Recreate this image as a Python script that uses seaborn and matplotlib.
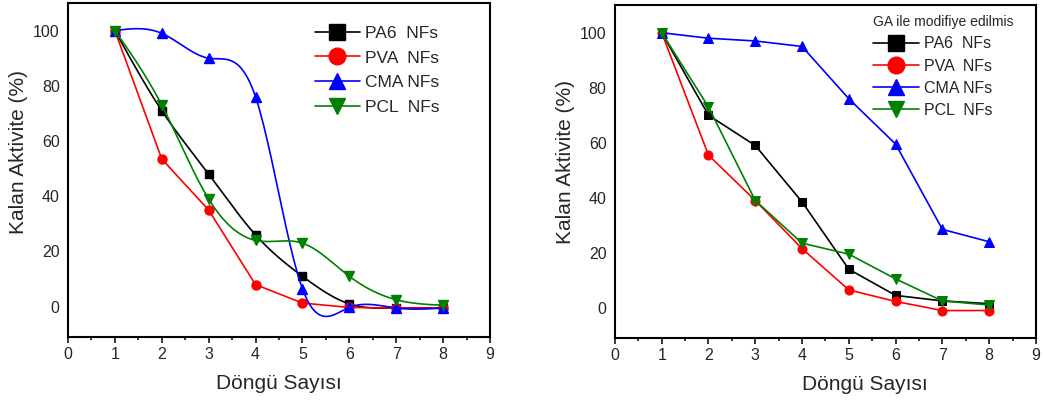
import numpy as np
import matplotlib
matplotlib.use("Agg")
import matplotlib.pyplot as plt
import seaborn as sns
from matplotlib.lines import Line2D
from matplotlib.ticker import MultipleLocator

cycles = [1, 2, 3, 4, 5, 6, 7, 8]
labels = ["PA6  NFs", "PVA  NFs", "CMA NFs", "PCL  NFs"]

# left panel (unmodified)
pa6_left = [100, 71, 48, 26, 11, 1, -0.5, -0.5]
pva_left = [100, 53.5, 35, 8, 1.3, -0.3, -0.5, -0.5]
cma_left = [100, 99, 90, 76, 6.5, -0.3, -0.5, -0.5]
pcl_left = [100, 73, 39, 24, 23, 11, 2.5, 0.5]

# right panel (GA modified)
pa6_right = [100, 70, 59, 38.5, 14, 4.5, 2.5, 1.5]
pva_right = [100, 55.5, 39, 21.5, 6.5, 2.3, -1, -1]
cma_right = [100, 98, 97, 95, 76, 59.5, 28.5, 24]
pcl_right = [100, 73, 39, 23.5, 19.5, 10.5, 2.5, 1]

colors = ["black", "red", "blue", "green"]
markers = ["s", "o", "^", "v"]
msizes = [6, 6.5, 7, 7]


def natural_spline(x, y, n=300):
    # smooth connecting line (Origin style spline) drawn through the points
    x = np.asarray(x, float)
    y = np.asarray(y, float)
    k = len(x)
    h = np.diff(x)
    A = np.zeros((k, k))
    b = np.zeros(k)
    A[0, 0] = A[-1, -1] = 1
    for i in range(1, k - 1):
        A[i, i - 1] = h[i - 1]
        A[i, i] = 2 * (h[i - 1] + h[i])
        A[i, i + 1] = h[i]
        b[i] = 6 * ((y[i + 1] - y[i]) / h[i] - (y[i] - y[i - 1]) / h[i - 1])
    M = np.linalg.solve(A, b)
    xs = np.linspace(x[0], x[-1], n)
    idx = np.clip(np.searchsorted(x, xs) - 1, 0, k - 2)
    x0, x1 = x[idx], x[idx + 1]
    hh = x1 - x0
    t0 = x1 - xs
    t1 = xs - x0
    ys = (M[idx] * t0 ** 3 + M[idx + 1] * t1 ** 3) / (6 * hh) \
        + (y[idx] / hh - M[idx] * hh / 6) * t0 \
        + (y[idx + 1] / hh - M[idx + 1] * hh / 6) * t1
    return xs, ys


sns.set_style("white")
plt.rcParams["font.family"] = ["Liberation Sans", "DejaVu Sans"]

fig = plt.figure(figsize=(10.44, 4.01), dpi=100)
ax1 = fig.add_axes([0.0651, 0.1596, 0.4042, 0.833])
ax2 = fig.add_axes([0.589, 0.157, 0.4033, 0.830])

left_series = [pa6_left, pva_left, cma_left, pcl_left]
smooth = [True, False, True, True]
for vals, c, m, ms, sm in zip(left_series, colors, markers, msizes, smooth):
    if sm:
        xs, ys = natural_spline(cycles, vals)
        sns.lineplot(x=xs, y=ys, color=c, lw=1.2, ax=ax1)
    else:
        sns.lineplot(x=cycles, y=vals, color=c, lw=1.2, ax=ax1)
    ax1.plot(cycles, vals, ls="none", marker=m, ms=ms, color=c)

right_series = [pa6_right, pva_right, cma_right, pcl_right]
for vals, c, m, ms in zip(right_series, colors, markers, msizes):
    sns.lineplot(x=cycles, y=vals, color=c, lw=1.2, marker=m, markersize=ms,
                 markeredgecolor=c, ax=ax2)

handles = [Line2D([], [], color=c, lw=1.2, marker=m, ms=12, markeredgecolor=c)
           for c, m in zip(colors, markers)]

for ax in (ax1, ax2):
    ax.set_xlim(0, 9)
    ax.set_ylim(-11, 110)
    ax.xaxis.set_major_locator(MultipleLocator(1))
    ax.xaxis.set_minor_locator(MultipleLocator(0.5))
    ax.set_yticks([0, 20, 40, 60, 80, 100])
    ax.tick_params(axis="x", which="major", direction="out", length=4.5,
                   width=1.3, labelsize=11.5, bottom=True, pad=3)
    ax.tick_params(axis="x", which="minor", direction="out", length=2.5,
                   width=1.3, bottom=True)
    ax.tick_params(axis="y", length=0, labelsize=11.5, pad=6)
    for s in ax.spines.values():
        s.set_linewidth(1.5)
        s.set_color("black")
    ax.set_xlabel("Döngü Sayısı", fontsize=15)
    ax.set_ylabel("Kalan Aktivite (%)", fontsize=15)

ax1.xaxis.set_label_coords(0.5, -0.11)
ax1.yaxis.set_label_coords(-0.095, 0.554)
ax2.xaxis.set_label_coords(0.594, -0.11)
ax2.yaxis.set_label_coords(-0.095, 0.53)

ax1.legend(handles, labels, loc="upper left", bbox_to_anchor=(0.585, 0.932),
           frameon=False, fontsize=12.5, handlelength=2.6, handletextpad=0.3,
           labelspacing=0.55, borderpad=0, borderaxespad=0)
leg = ax2.legend(handles, labels, loc="upper left", bbox_to_anchor=(0.612, 0.97),
                 frameon=False, fontsize=11.5, handlelength=2.9, handletextpad=0.3,
                 labelspacing=0.45, borderpad=0, borderaxespad=0,
                 title="GA ile modifiye edilmis", title_fontsize=10)
leg._legend_box.align = "left"

fig.savefig("out.png", dpi=100)
